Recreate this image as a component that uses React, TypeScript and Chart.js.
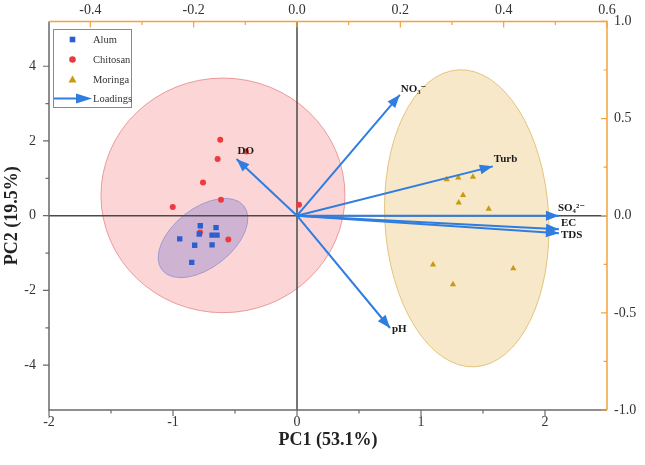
import { useEffect, useRef } from 'react';
import { Chart, registerables } from 'chart.js';

Chart.register(...registerables);

// ---------- data ----------
const alumPC1 = [-0.78, -0.653, -0.788, -0.685, -0.645, -0.946, -0.825, -0.685, -0.849];
const alumPC2 = [-0.27, -0.32, -0.49, -0.52, -0.52, -0.62, -0.79, -0.78, -1.25];

const chitosanPC1 = [-0.619, -0.64, -0.758, -0.613, -1.002, 0.016, -0.782, -0.554, -0.411];
const chitosanPC2 = [2.03, 1.52, 0.89, 0.43, 0.23, 0.29, -0.45, -0.64, 1.72];

const moringaPC1 = [1.207, 1.301, 1.419, 1.339, 1.304, 1.546, 1.097, 1.744, 1.258];
const moringaPC2 = [0.97, 1.02, 1.04, 0.55, 0.35, 0.18, -1.31, -1.41, -1.84];

const loadingNames = ['NO\u2083\u207B', 'DO', 'Turb', 'SO\u2084\u00B2\u207B', 'EC', 'TDS', 'pH'];
const loadingPC1 = [0.199, -0.117, 0.379, 0.507, 0.507, 0.507, 0.18];
const loadingPC2 = [0.622, 0.292, 0.254, 0.0, -0.07, -0.09, -0.578];

// confidence ellipses (centre, semi-axes in axis units, rotation in degrees)
const ellipseGroups = ['Chitosan', 'Alum', 'Moringa'];
const ellipseCX = [-0.597, -0.758, 1.369];
const ellipseCY = [0.544, -0.597, -0.07];
const ellipseRX = [0.984, 0.419, 0.661];
const ellipseRY = [3.14, 0.796, 3.98];
const ellipseAngle = [0, -38, -3.2];

const bottomTicks = [-2, -1, 0, 1, 2];
const bottomMinor = [-1.5, -0.5, 0.5, 1.5];
const leftTicks = [-4, -2, 0, 2, 4];
const leftMinor = [-3, -1, 1, 3];
const topTicks = [-0.4, -0.2, 0.0, 0.2, 0.4, 0.6];
const topMinor = [-0.3, -0.1, 0.1, 0.3, 0.5];
const rightTicks = [-1.0, -0.5, 0.0, 0.5, 1.0];
const rightMinor = [-0.75, -0.25, 0.25, 0.75];

const xTitle = 'PC1 (53.1%)';
const yTitle = 'PC2 (19.5%)';
const legendLabels = ['Alum', 'Chitosan', 'Moringa', 'Loadings'];

// ---------- styles ----------
const FONT = '"Liberation Serif", "DejaVu Serif", "Times New Roman", serif';
const ORANGE = '#f5a23c';
const GRAY = '#6a6a6a';
const ARROW = '#2f7de0';
const ALUM_C = '#2b5fd0';
const CHIT_C = '#ee3a3f';
const MOR_C = '#c99a10';
const ellipseFill = ['rgba(245,120,120,0.30)', 'rgba(80,90,200,0.27)', 'rgba(230,190,100,0.35)'];
const ellipseStroke = ['rgba(225,110,110,0.65)', 'rgba(120,130,205,0.6)', 'rgba(220,180,90,0.75)'];

const labelOffsets: Record<string, [number, number]> = {
  'NO\u2083\u207B': [1, -6],
  DO: [1, -8],
  Turb: [1, -7],
  'SO\u2084\u00B2\u207B': [-1, -8],
  EC: [2, -6],
  TDS: [2, 2],
  pH: [2, 1],
};

function drawArrowHead(ctx: CanvasRenderingContext2D, x0: number, y0: number, x1: number, y1: number, len: number, half: number) {
  const a = Math.atan2(y1 - y0, x1 - x0);
  const bx = x1 - len * Math.cos(a);
  const by = y1 - len * Math.sin(a);
  ctx.beginPath();
  ctx.moveTo(x1, y1);
  ctx.lineTo(bx + half * Math.sin(a), by - half * Math.cos(a));
  ctx.lineTo(bx - half * Math.sin(a), by + half * Math.cos(a));
  ctx.closePath();
  ctx.fill();
}

const biplotPlugin = {
  id: 'biplot',
  beforeDatasetsDraw(chart: any) {
    const { ctx, chartArea: ca, scales } = chart;
    const sx = scales.x, sy = scales.y;
    const pxPerX = Math.abs(sx.getPixelForValue(1) - sx.getPixelForValue(0));
    const pxPerY = Math.abs(sy.getPixelForValue(1) - sy.getPixelForValue(0));
    ctx.save();
    ctx.beginPath();
    ctx.rect(ca.left, ca.top, ca.right - ca.left, ca.bottom - ca.top);
    ctx.clip();
    ellipseGroups.forEach((_, i) => {
      const cx = sx.getPixelForValue(ellipseCX[i]);
      const cy = sy.getPixelForValue(ellipseCY[i]);
      ctx.beginPath();
      ctx.ellipse(cx, cy, ellipseRX[i] * pxPerX, ellipseRY[i] * pxPerY, (ellipseAngle[i] * Math.PI) / 180, 0, Math.PI * 2);
      ctx.fillStyle = ellipseFill[i];
      ctx.fill();
      ctx.strokeStyle = ellipseStroke[i];
      ctx.lineWidth = 1;
      ctx.stroke();
    });
    // zero lines
    const x0 = sx.getPixelForValue(0);
    const y0 = sy.getPixelForValue(0);
    ctx.strokeStyle = '#4a4a4a';
    ctx.lineWidth = 1.5;
    ctx.beginPath();
    ctx.moveTo(x0, ca.top);
    ctx.lineTo(x0, ca.bottom);
    ctx.moveTo(ca.left, y0);
    ctx.lineTo(ca.right, y0);
    ctx.stroke();
    ctx.restore();
  },
  afterDatasetsDraw(chart: any) {
    const { ctx, scales } = chart;
    const sx2 = scales.x2, sy2 = scales.y2;
    const ox = sx2.getPixelForValue(0);
    const oy = sy2.getPixelForValue(0);
    ctx.save();
    ctx.fillStyle = ARROW;
    loadingNames.forEach((name, i) => {
      const tx = sx2.getPixelForValue(loadingPC1[i]);
      const ty = sy2.getPixelForValue(loadingPC2[i]);
      drawArrowHead(ctx, ox, oy, tx, ty, 13, 5);
    });
    ctx.fillStyle = '#1a1a1a';
    ctx.font = `bold 11px ${FONT}`;
    ctx.textAlign = 'left';
    ctx.textBaseline = 'middle';
    loadingNames.forEach((name, i) => {
      const tx = sx2.getPixelForValue(loadingPC1[i]);
      const ty = sy2.getPixelForValue(loadingPC2[i]);
      const off = labelOffsets[name] || [2, 0];
      ctx.fillText(name, tx + off[0], ty + off[1]);
    });
    ctx.restore();
  },
  afterDraw(chart: any) {
    const { ctx, chartArea: ca, scales } = chart;
    const { x, y, x2, y2 } = scales;
    ctx.save();
    ctx.lineWidth = 1.5;
    // frame
    ctx.strokeStyle = GRAY;
    ctx.beginPath();
    ctx.moveTo(ca.left, ca.top);
    ctx.lineTo(ca.left, ca.bottom);
    ctx.lineTo(ca.right, ca.bottom);
    ctx.stroke();
    // ticks bottom/left (outward)
    ctx.lineWidth = 1.2;
    ctx.beginPath();
    bottomTicks.forEach((v) => { const p = x.getPixelForValue(v); ctx.moveTo(p, ca.bottom); ctx.lineTo(p, ca.bottom + 6); });
    bottomMinor.forEach((v) => { const p = x.getPixelForValue(v); ctx.moveTo(p, ca.bottom); ctx.lineTo(p, ca.bottom + 3.5); });
    leftTicks.forEach((v) => { const p = y.getPixelForValue(v); ctx.moveTo(ca.left, p); ctx.lineTo(ca.left - 6, p); });
    leftMinor.forEach((v) => { const p = y.getPixelForValue(v); ctx.moveTo(ca.left, p); ctx.lineTo(ca.left - 3.5, p); });
    ctx.stroke();
    // orange top/right
    ctx.strokeStyle = ORANGE;
    ctx.lineWidth = 1.5;
    ctx.beginPath();
    ctx.moveTo(ca.left, ca.top);
    ctx.lineTo(ca.right, ca.top);
    ctx.lineTo(ca.right, ca.bottom);
    ctx.stroke();
    ctx.lineWidth = 1.2;
    ctx.beginPath();
    topTicks.forEach((v) => { const p = x2.getPixelForValue(v); ctx.moveTo(p, ca.top); ctx.lineTo(p, ca.top + 6); });
    topMinor.forEach((v) => { const p = x2.getPixelForValue(v); ctx.moveTo(p, ca.top); ctx.lineTo(p, ca.top + 3.5); });
    rightTicks.forEach((v) => { const p = y2.getPixelForValue(v); ctx.moveTo(ca.right, p); ctx.lineTo(ca.right - 6, p); });
    rightMinor.forEach((v) => { const p = y2.getPixelForValue(v); ctx.moveTo(ca.right, p); ctx.lineTo(ca.right - 3.5, p); });
    ctx.stroke();

    // axis titles
    ctx.fillStyle = '#222';
    ctx.font = `bold 18px ${FONT}`;
    ctx.textAlign = 'center';
    ctx.textBaseline = 'middle';
    ctx.fillText(xTitle, (ca.left + ca.right) / 2, 440);
    ctx.save();
    ctx.translate(12, (ca.top + ca.bottom) / 2);
    ctx.rotate(-Math.PI / 2);
    ctx.fillText(yTitle, 0, 0);
    ctx.restore();

    // legend
    const bx = 53, by = 29, bw = 78, bh = 78;
    ctx.fillStyle = '#ffffff';
    ctx.fillRect(bx, by, bw, bh);
    ctx.strokeStyle = '#8a8a8a';
    ctx.lineWidth = 1;
    ctx.strokeRect(bx + 0.5, by + 0.5, bw, bh);
    const rows = [39.5, 59.5, 79.5, 98.5];
    const sxc = 72.5;
    ctx.fillStyle = ALUM_C;
    ctx.fillRect(sxc - 2.8, rows[0] - 2.8, 5.6, 5.6);
    ctx.fillStyle = CHIT_C;
    ctx.beginPath(); ctx.arc(sxc, rows[1], 3.3, 0, Math.PI * 2); ctx.fill();
    ctx.fillStyle = MOR_C;
    ctx.beginPath();
    ctx.moveTo(sxc, rows[2] - 4); ctx.lineTo(sxc + 4, rows[2] + 3); ctx.lineTo(sxc - 4, rows[2] + 3); ctx.closePath(); ctx.fill();
    ctx.strokeStyle = ARROW;
    ctx.lineWidth = 2;
    ctx.beginPath(); ctx.moveTo(54, rows[3]); ctx.lineTo(80, rows[3]); ctx.stroke();
    ctx.fillStyle = ARROW;
    drawArrowHead(ctx, 54, rows[3], 92, rows[3], 16, 5);
    ctx.fillStyle = '#333';
    ctx.font = `10.5px ${FONT}`;
    ctx.textAlign = 'left';
    ctx.textBaseline = 'middle';
    legendLabels.forEach((t, i) => ctx.fillText(t, 93, rows[i] + 0.5));
    ctx.restore();
  },
};

export default function App() {
  const ref = useRef<HTMLCanvasElement | null>(null);
  useEffect(() => {
    if (!ref.current) return;
    const tickFont = { family: FONT, size: 14 };
    const noGrid = { display: false, drawTicks: false };
    const arrowSets = loadingNames.map((name, i) => ({
      label: name,
      data: [{ x: 0, y: 0 }, { x: loadingPC1[i], y: loadingPC2[i] }],
      xAxisID: 'x2',
      yAxisID: 'y2',
      showLine: true,
      borderColor: ARROW,
      borderWidth: 2,
      pointRadius: 0,
      order: 1,
    }));
    const chart = new Chart(ref.current, {
      type: 'scatter',
      data: {
        datasets: [
          ...arrowSets,
          {
            label: 'Alum',
            data: alumPC1.map((v, i) => ({ x: v, y: alumPC2[i] })),
            xAxisID: 'x', yAxisID: 'y',
            pointStyle: 'rect', pointRadius: 3.8,
            backgroundColor: ALUM_C, borderColor: ALUM_C, borderWidth: 0, order: 2,
          },
          {
            label: 'Chitosan',
            data: chitosanPC1.map((v, i) => ({ x: v, y: chitosanPC2[i] })),
            xAxisID: 'x', yAxisID: 'y',
            pointStyle: 'circle', pointRadius: 3,
            backgroundColor: CHIT_C, borderColor: CHIT_C, borderWidth: 0, order: 3,
          },
          {
            label: 'Moringa',
            data: moringaPC1.map((v, i) => ({ x: v, y: moringaPC2[i] })),
            xAxisID: 'x', yAxisID: 'y',
            pointStyle: 'triangle', pointRadius: 3.6,
            backgroundColor: MOR_C, borderColor: MOR_C, borderWidth: 0, order: 4,
          },
        ] as any,
      },
      options: {
        responsive: false,
        animation: false,
        layout: { padding: 0 },
        plugins: { legend: { display: false }, tooltip: { enabled: false } },
        scales: {
          x: {
            type: 'linear', position: 'bottom', axis: 'x', min: -2, max: 2.5,
            grid: noGrid, border: { display: false },
            ticks: { padding: 4, color: '#333', font: tickFont, callback: (v: any) => String(v) },
            afterBuildTicks: (s: any) => { s.ticks = bottomTicks.map((v) => ({ value: v })); },
            afterFit: (s: any) => { s.height = 55; },
          },
          x2: {
            type: 'linear', position: 'top', axis: 'x', min: -0.48, max: 0.6,
            grid: noGrid, border: { display: false },
            ticks: { padding: 3, color: '#333', font: tickFont, callback: (v: any) => Number(v).toFixed(1) },
            afterBuildTicks: (s: any) => { s.ticks = topTicks.map((v) => ({ value: v })); },
            afterFit: (s: any) => { s.height = 18; },
          },
          y: {
            type: 'linear', position: 'left', axis: 'y', min: -5.2, max: 5.2,
            grid: noGrid, border: { display: false },
            ticks: { padding: 13, color: '#333', font: tickFont, callback: (v: any) => String(v) },
            afterBuildTicks: (s: any) => { s.ticks = leftTicks.map((v) => ({ value: v })); },
            afterFit: (s: any) => { s.width = 49; },
          },
          y2: {
            type: 'linear', position: 'right', axis: 'y', min: -1, max: 1,
            grid: noGrid, border: { display: false },
            ticks: { padding: 7, color: '#333', font: tickFont, callback: (v: any) => Number(v).toFixed(1) },
            afterBuildTicks: (s: any) => { s.ticks = rightTicks.map((v) => ({ value: v })); },
            afterFit: (s: any) => { s.width = 38; },
          },
        } as any,
      },
      plugins: [biplotPlugin],
    });
    return () => chart.destroy();
  }, []);
  return (
    <div style={{ position: 'fixed', left: 0, top: 0, width: 645, height: 465, background: '#fff' }}>
      <canvas ref={ref} width={645} height={465} style={{ display: 'block' }} />
    </div>
  );
}
